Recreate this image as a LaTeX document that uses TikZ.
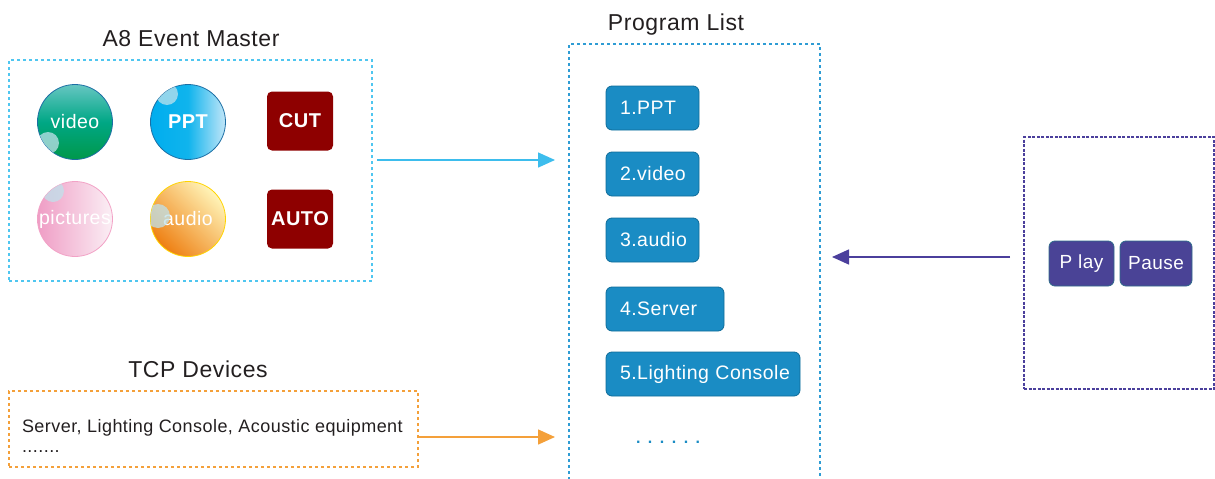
\documentclass[tikz,border=0pt]{standalone}
\usepackage{fontspec}
\setmainfont{Liberation Sans}[LetterSpace=2.5]
\usetikzlibrary{arrows.meta}
\definecolor{titlegray}{HTML}{231F20}
\definecolor{cyanline}{HTML}{4FC6F0}
\definecolor{cyanarrow}{HTML}{3DBDED}
\definecolor{progline}{HTML}{2E9CD4}
\definecolor{itemblue}{HTML}{1A8CC4}
\definecolor{itemedge}{HTML}{0F6C99}
\definecolor{purpleline}{HTML}{4B3F9C}
\definecolor{btnpurple}{HTML}{4A4396}
\definecolor{btnedge}{HTML}{2F6B8A}
\definecolor{cutred}{HTML}{8E0000}
\definecolor{tcporange}{HTML}{F4A03A}
\definecolor{balledge}{HTML}{1C6EA4}
\definecolor{glossblue}{HTML}{BFE2EC}

\begin{document}
\begin{tikzpicture}[y=1pt, x=1pt, yscale=-1, inner sep=0pt, outer sep=0pt,
  title/.style={text=titlegray, font=\fontsize{23}{27}\selectfont, anchor=base},
  dashbox/.style={line width=1.5pt, dash pattern=on 3pt off 3pt},
  ball/.style={circle, minimum size=75pt, line width=0.8pt, text=white,
    font=\fontsize{19.5}{23}\selectfont},
  gloss/.style={fill=glossblue, opacity=0.75},
  redkey/.style={fill=cutred, rounded corners=5pt, minimum width=66pt,
    minimum height=59pt, text=white, font=\bfseries\fontsize{20}{24}\selectfont},
  listitem/.style={draw=itemedge, fill=itemblue, line width=0.8pt,
    rounded corners=6pt, anchor=north west, minimum height=44pt,
    inner xsep=14pt, align=left, text=white,
    font=\fontsize{19.5}{23}\selectfont},
  btn/.style={fill=btnpurple, draw=btnedge, line width=0.8pt,
    rounded corners=6pt, minimum height=45pt, text=white,
    font=\fontsize{19}{23}\selectfont},
  flow/.style={line width=1.5pt, -{Triangle[length=17pt, width=15pt]}}]
\useasboundingbox (0,0) rectangle (1215,479);

\path (191,46) node[title] (textmaster) {A8 Event Master};
\path (676,30) node[title] (textlist) {Program List};
\path (198,377) node[title] (texttcp) {TCP Devices};

\path (190.5,170.5) node[dashbox, draw=cyanline, minimum width=363pt,
  minimum height=221pt] (boxmaster) {};
\path (694.5,262) node[minimum width=251pt, minimum height=436pt] (boxlist) {};
\path[draw=progline, dashbox] (boxlist.south west) -- (boxlist.north west)
  -- (boxlist.north east) -- (boxlist.south east);
\path (1119,263) node[draw=purpleline, line width=1.2pt,
  dash pattern=on 3pt off 1.5pt, minimum width=190pt,
  minimum height=252pt] (boxcontrol) {};
\path (213.5,429) node[dashbox, draw=tcporange, minimum width=409pt,
  minimum height=76pt] (boxtcp) {};

\path (75,122) node[ball, draw=balledge, top color={rgb,255:red,102;green,198;blue,194},
  bottom color={rgb,255:red,0;green,152;blue,74},
  middle color={rgb,255:red,0;green,167;blue,133}] (ballvideo) {video};
\path (188,122) node[ball, draw=balledge, left color={rgb,255:red,0;green,173;blue,238},
  right color={rgb,255:red,194;green,230;blue,248},
  middle color={rgb,255:red,16;green,180;blue,237}, font=\bfseries\fontsize{20}{24}\selectfont]
  (ballppt) {PPT};
\path (75,219) node[ball, draw={rgb,255:red,242;green,162;blue,198},
  left color={rgb,255:red,239;green,157;blue,197},
  right color={rgb,255:red,251;green,239;blue,245}] (ballpictures) {pictures};
\path (188,219) node[ball, draw={rgb,255:red,255;green,212;blue,0},
  top color={rgb,255:red,255;green,244;blue,184},
  bottom color={rgb,255:red,238;green,127;blue,18}, shading angle=-45]
  (ballaudio) {audio};

\begin{scope}
\clip (ballvideo.center) circle[radius=37.5];
\fill[gloss] (48,143) circle[radius=11];
\end{scope}
\begin{scope}
\clip (ballppt.center) circle[radius=37.5];
\fill[gloss] (167,94) circle[radius=11];
\end{scope}
\begin{scope}
\clip (ballpictures.center) circle[radius=37.5];
\fill[gloss] (53,191) circle[radius=11];
\end{scope}
\begin{scope}
\clip (ballaudio.center) circle[radius=37.5];
\fill[gloss] (158,216) circle[radius=12];
\end{scope}

\path (300,121) node[redkey] (keycut) {CUT};
\path (300,219) node[redkey] (keyauto) {AUTO};

\path (606,86) node[listitem, text width=65pt] (item1) {1.PPT};
\path (606,152) node[listitem, text width=65pt] (item2) {2.video};
\path (606,218) node[listitem, text width=65pt] (item3) {3.audio};
\path (606,287) node[listitem, text width=90pt] (item4) {4.Server};
\path (606,352) node[listitem, text width=166pt] (item5) {\mbox{5.Lighting Console}};
\path (636,443) node[anchor=base west, text=itemblue,
  font=\bfseries\fontsize{16}{18}\selectfont] (textetc)
  {.\hspace{7.5pt}.\hspace{7.5pt}.\hspace{7.5pt}.\hspace{7.5pt}.\hspace{7.5pt}.};

\path (1081.5,263.5) node[btn, minimum width=65pt] (btnplay) {P lay};
\path (1156,263.5) node[btn, minimum width=72pt] (btnpause) {Pause};

\path (22,432) node[anchor=base west, text=titlegray,
  font=\fontsize{18}{22}\selectfont] (textdevices)
  {Server, Lighting Console, Acoustic equipment};
\path (22,452) node[anchor=base west, text=titlegray,
  font=\fontsize{18}{22}\selectfont] (textmore) {.......};

\path[draw=cyanarrow, flow, shorten <=5pt, shorten >=14pt]
  (boxmaster.east |- 0,160) -- (boxlist.west |- 0,160);
\path[draw=purpleline, flow, shorten <=14pt, shorten >=12pt]
  (boxcontrol.west |- 0,257) -- (boxlist.east |- 0,257);
\path[draw=tcporange, flow, shorten >=14pt]
  (boxtcp.east |- 0,437) -- (boxlist.west |- 0,437);

\end{tikzpicture}
\end{document}
